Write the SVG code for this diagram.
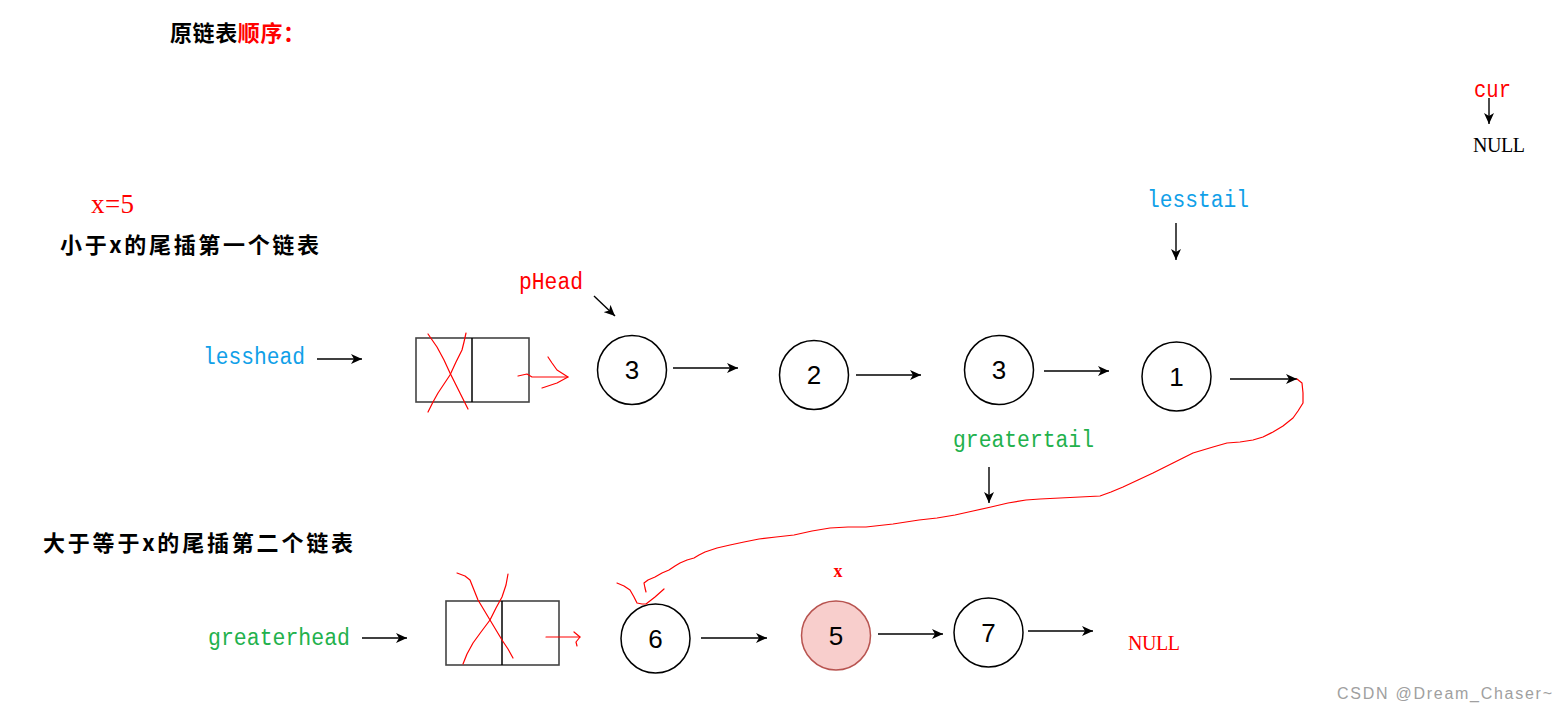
<svg xmlns="http://www.w3.org/2000/svg" width="1567" height="713" viewBox="0 0 1567 713">
<style>
.cjk{font-family:"Noto Sans CJK SC","Liberation Serif",sans-serif;font-weight:bold;font-size:22px;fill:#000}
.mono{font-family:"Liberation Mono",monospace;font-size:23px}
.serif{font-family:"Liberation Serif",serif;font-size:20px}
.num{font-family:"Liberation Sans",Arial,sans-serif;font-size:26px;fill:#000;text-anchor:middle}
.blue{fill:#10a0e8}
.green{fill:#22b14c}
.red{fill:#ff0000}
.circ{fill:#fff;stroke:#000;stroke-width:1.5}
.box{fill:#fff;stroke:#444;stroke-width:1.6}
.arr{stroke:#000;stroke-width:1.4;fill:none;marker-end:url(#ah)}
.scrib{stroke:#ff0000;stroke-width:1.2;fill:none;stroke-linejoin:round;stroke-linecap:round}
</style>
<defs>
<marker id="ah" markerUnits="userSpaceOnUse" markerWidth="12" markerHeight="10" refX="11" refY="5" orient="auto">
<path d="M0,0 L11,5 L0,10 L3,5 z" fill="#000"/>
</marker>
</defs>
<rect width="1567" height="713" fill="#fff"/>

<g id="labels">
<text class="cjk" x="170" y="41" textLength="135">原链表<tspan class="red">顺序：</tspan></text>
<text class="mono red" x="1474" y="97" textLength="37" lengthAdjust="spacingAndGlyphs">cur</text>
<text class="serif" x="1473" y="152" textLength="52">NULL</text>
<text x="91" y="213" font-family="Liberation Serif,serif" font-size="27" fill="#ff0000" textLength="43">x=5</text>
<text class="cjk" x="60" y="253" textLength="259">小于x的尾插第一个链表</text>
<text class="mono red" x="519" y="289" textLength="64" lengthAdjust="spacingAndGlyphs">pHead</text>
<text class="mono blue" x="203" y="364" textLength="102" lengthAdjust="spacingAndGlyphs">lesshead</text>
<text class="mono blue" x="1147" y="207" textLength="102" lengthAdjust="spacingAndGlyphs">lesstail</text>
<text class="mono green" x="953" y="447" textLength="141" lengthAdjust="spacingAndGlyphs">greatertail</text>
<text class="cjk" x="43" y="551" textLength="310">大于等于x的尾插第二个链表</text>
<text class="mono green" x="208" y="645" textLength="142" lengthAdjust="spacingAndGlyphs">greaterhead</text>
<text x="838" y="577" font-family="Liberation Serif,serif" font-weight="bold" font-size="18" fill="#ff0000" text-anchor="middle">x</text>
<text class="serif red" x="1128" y="650" textLength="52">NULL</text>
<text x="1337" y="699" font-family="Liberation Sans,Arial,sans-serif" font-size="16" fill="#a0a0a0" textLength="215">CSDN @Dream_Chaser~</text>
</g>

<g id="lessBox">
<rect class="box" x="416" y="338" width="113" height="64"/>
<line x1="472" y1="338" x2="472" y2="402" stroke="#000" stroke-width="1.5"/>
</g>
<g id="greaterBox">
<rect class="box" x="446" y="601" width="113" height="64"/>
<line x1="502" y1="601" x2="502" y2="665" stroke="#000" stroke-width="1.5"/>
</g>

<g id="n3a"><circle class="circ" cx="632" cy="370" r="34.5"/><text class="num" x="632" y="379">3</text></g>
<g id="n2"><circle class="circ" cx="814" cy="375" r="34.5"/><text class="num" x="814" y="384">2</text></g>
<g id="n3b"><circle class="circ" cx="999" cy="370" r="34.5"/><text class="num" x="999" y="379">3</text></g>
<g id="n1"><circle class="circ" cx="1176.5" cy="376.5" r="34.5"/><text class="num" x="1176.5" y="385.5">1</text></g>
<g id="n6"><circle class="circ" cx="655.5" cy="638.5" r="34.5"/><text class="num" x="655.5" y="647.5">6</text></g>
<g id="n5"><circle cx="836" cy="635.5" r="34.5" fill="#f8cecc" stroke="#b85450" stroke-width="1.5"/><text class="num" x="836" y="644.5">5</text></g>
<g id="n7"><circle class="circ" cx="988.5" cy="632.5" r="34.5"/><text class="num" x="988.5" y="641.5">7</text></g>

<g id="connectors">
<line class="arr" x1="1489" y1="98" x2="1489" y2="124"/>
<line class="arr" x1="317" y1="359" x2="362" y2="359"/>
<line class="arr" x1="594" y1="296" x2="615" y2="316"/>
<line class="arr" x1="1176" y1="223" x2="1176" y2="260"/>
<line class="arr" x1="673" y1="368" x2="738" y2="368"/>
<line class="arr" x1="856" y1="375" x2="921" y2="375"/>
<line class="arr" x1="1044" y1="371" x2="1109" y2="371"/>
<line class="arr" x1="1230" y1="379" x2="1297" y2="379"/>
<line class="arr" x1="989" y1="467" x2="989" y2="503"/>
<line class="arr" x1="362" y1="638" x2="407" y2="638"/>
<line class="arr" x1="701" y1="638" x2="767" y2="638"/>
<line class="arr" x1="878" y1="634" x2="943" y2="634"/>
<line class="arr" x1="1028" y1="631" x2="1093" y2="631"/>
</g>

<g id="scribbles">
<polyline class="scrib" points="428,334 437,347 444,360 450,373 455,383 460,393 464,401 468,409"/>
<polyline class="scrib" points="466,333 464,342 462,350 456,362 450,375 444,384 438,393 433,402 428,412"/>
<polyline class="scrib" points="518,376 527,374 532,377 545,377 557,377 568,377"/>
<polyline class="scrib" points="548,357 552,363 557,370 568,377 557,383 542,388"/>
<polyline class="scrib" points="1297,379 1302,383 1303,393 1303,403 1298,411 1293,418 1283,426 1273,432 1263,437 1253,440 1240,442 1227,443 1213,447 1203,450 1193,453 1183,458 1173,463 1163,468 1153,473 1138,480 1123,487 1111,492 1100,496 1080,497 1060,498 1040,499 1026,500 1008,503 991,507 973,511 955,515 937,518 919,520 893,524 866,527 848,527 830,528 812,531 794,535 776,537 759,539 744,542 730,545 717,548 705,552 699,555 694,558 687,560 680,563 675,566 669,570 662,573 655,577 648,580 644,583 645,588 646,592"/>
<polyline class="scrib" points="617,583 624,586 630,590 634,597 637,603 642,604 646,604 655,597 664,589"/>
<polyline class="scrib" points="457,573 465,576 470,580 474,590 478,600 484,610 490,620 496,630 502,640 508,649 513,658"/>
<polyline class="scrib" points="508,574 506,585 502,597 496,608 490,620 481,632 473,643 467,654 463,664"/>
<polyline class="scrib" points="546,637 560,637 570,637 580,637"/>
<polyline class="scrib" points="574,632 580,637 576,642 577,646"/>
</g>
</svg>
